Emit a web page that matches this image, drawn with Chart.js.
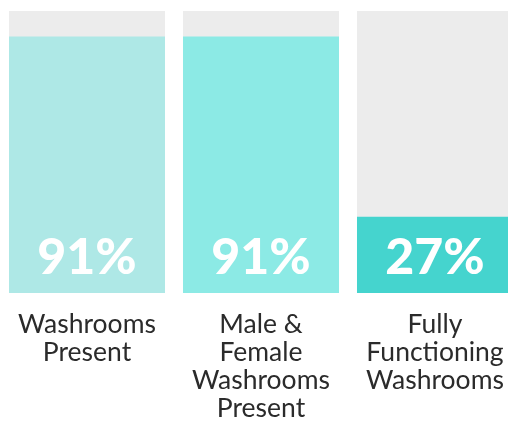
<!DOCTYPE html>
<html>
<head>
<meta charset="utf-8">
<script src="https://cdn.jsdelivr.net/npm/chart.js@4/dist/chart.umd.min.js"></script>
<style>
    html, body { margin: 0; padding: 0; background: #fff; overflow: hidden; }
    #wrap { width: 522px; height: 421px; }
</style>
</head>
<body>
<div id="wrap"><canvas id="barChart" width="522" height="421"></canvas></div>
<script>
const categories = [
    ['Washrooms', 'Present'],
    ['Male &', 'Female', 'Washrooms', 'Present'],
    ['Fully', 'Functioning', 'Washrooms']
];
const percentValues = [91, 91, 27];
const fullValues = [100, 100, 100];
const barColors = ['#aee8e6', '#8ceae5', '#45d4ce'];

const percentLabels = {
    id: 'percentLabels',
    afterDatasetsDraw(chart) {
        const ctx = chart.ctx;
        const meta = chart.getDatasetMeta(0);
        ctx.save();
        ctx.fillStyle = '#ffffff';
        ctx.font = '900 50px Lato';
        ctx.textAlign = 'center';
        ctx.textBaseline = 'alphabetic';
        meta.data.forEach((bar, i) => {
            ctx.fillText(percentValues[i] + '%', bar.x, bar.base - 19);
        });
        ctx.restore();
    }
};

function drawChart() {
    new Chart(document.getElementById('barChart'), {
        type: 'bar',
        data: {
            labels: categories,
            datasets: [{
                label: 'Percent',
                data: percentValues,
                backgroundColor: barColors,
                grouped: false,
                barPercentage: 0.8966,
                categoryPercentage: 1
            }, {
                label: 'Total',
                data: fullValues,
                backgroundColor: '#ececec',
                grouped: false,
                barPercentage: 0.8966,
                categoryPercentage: 1
            }]
        },
        options: {
            responsive: false,
            animation: false,
            layout: { padding: { top: 11, bottom: -18, left: 0, right: 0 } },
            plugins: {
                legend: { display: false },
                tooltip: { enabled: false }
            },
            scales: {
                y: { display: false, min: 0, max: 100 },
                x: {
                    grid: { display: false, drawTicks: false },
                    border: { display: false },
                    ticks: {
                        color: '#2b2b2b',
                        padding: 17,
                        maxRotation: 0,
                        autoSkip: false,
                        font: { family: 'Lato', size: 26.5, lineHeight: '28px' }
                    }
                }
            }
        },
        plugins: [percentLabels]
    });
}

Promise.all([
    document.fonts.load('26.5px Lato'),
    document.fonts.load('900 50px Lato')
]).then(drawChart, drawChart);
</script>
</body>
</html>
